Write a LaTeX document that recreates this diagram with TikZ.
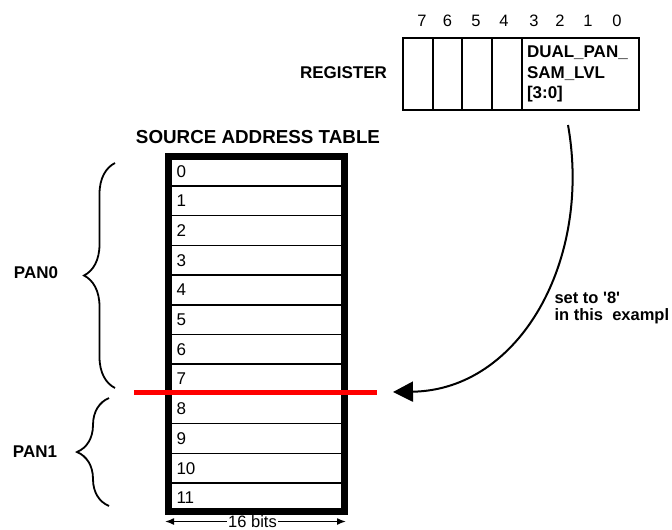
\documentclass[tikz,border=0pt]{standalone}
\usepackage{fontspec}
\setmainfont{Liberation Sans}
\usetikzlibrary{arrows.meta,decorations.pathreplacing}

\begin{document}
\begin{tikzpicture}[x=1pt,y=-1pt,
  lbl/.style={font=\fontsize{17}{20.5}\selectfont\bfseries},
  num/.style={font=\fontsize{16.5}{20}\selectfont},
  cell/.style={draw,line width=1.5pt,minimum height=72pt,inner sep=0pt},
  row/.style={draw,line width=1.5pt,minimum width=176pt,minimum height=29.7pt,
    text width=160pt,inner xsep=8pt,inner ysep=0pt,align=left,
    font=\fontsize{17}{20}\selectfont},
  pan/.style={decorate,decoration={brace,amplitude=#1},line width=1.8pt}]
  \useasboundingbox (0,0) rectangle (672,530);

  % Register: bit numbers
  \foreach \b/\x in {7/422,6/447.5,5/476,4/504,3/534,2/560,1/588,0/617}
    \node[num] (b\b) at (\x,21) {\b};

  % Register: cells
  \node[cell,minimum width=30pt] (c7) at (418,74) {};
  \node[cell,minimum width=29pt] (c6) at (447.5,74) {};
  \node[cell,minimum width=30pt] (c5) at (477,74) {};
  \node[cell,minimum width=30pt] (c4) at (507,74) {};
  \node[cell,lbl,minimum width=117pt,text width=107pt,inner xsep=5pt,align=left]
    (field) at (580.5,74) {DUAL\_PAN\_\\SAM\_LVL\\{[3:0]}};
  \node[lbl] (register) at (343.5,73) {REGISTER};

  % Source address table
  \node[lbl,font=\fontsize{18.8}{22}\selectfont\bfseries] (title) at (258,137)
    {SOURCE ADDRESS TABLE};
  \foreach \i in {0,...,11}
    \node[row] (r\i) at (256.5,{171.15+29.7*\i}) {\i};
  \node[draw,line width=7pt,minimum width=176pt,minimum height=355pt,inner sep=0pt]
    (table) at (256.5,334) {};

  % Split level
  \coordinate (redL) at (134,392);
  \coordinate (redR) at (377,392);
  \draw[red,line width=5pt] (redL) -- (redR);

  % Pan groups
  \coordinate (p0b) at (115,388);
  \coordinate (p0t) at (115,163);
  \draw[pan=31pt] (p0b) -- (p0t);
  \node[lbl] (pan0) at (36,273) {PAN0};
  \coordinate (p1b) at (109,506);
  \coordinate (p1t) at (109,398);
  \draw[pan=32pt] (p1b) -- (p1t);
  \node[lbl] (pan1) at (35,452) {PAN1};

  % Register field sets the level
  \coordinate (src) at (568,125);
  \coordinate (tip) at (393,392);
  \draw[line width=2pt,-{Triangle[length=20pt,width=20pt]}]
    (src) .. controls (592,260) and (520,390) .. (tip);
  \node[lbl,font=\fontsize{16.5}{17}\selectfont\bfseries,anchor=base west]
    (set) at (551,303) {set to \textquotesingle 8\textquotesingle};
  \node[lbl,font=\fontsize{16.5}{17}\selectfont\bfseries,anchor=base west]
    (ex) at (551,320) {in this\ \ exampl};

  % Width
  \node[num,font=\fontsize{16.5}{20}\selectfont,inner xsep=1pt,inner ysep=0pt] (bits) at (252.5,521.5) {16 bits};
  \coordinate (bl) at (165,521.5);
  \coordinate (br) at (346,521.5);
  \draw[line width=1.5pt,-{Latex[length=9pt,width=7pt]}] (bits) -- (bl);
  \draw[line width=1.5pt,-{Latex[length=9pt,width=7pt]}] (bits) -- (br);
\end{tikzpicture}
\end{document}
